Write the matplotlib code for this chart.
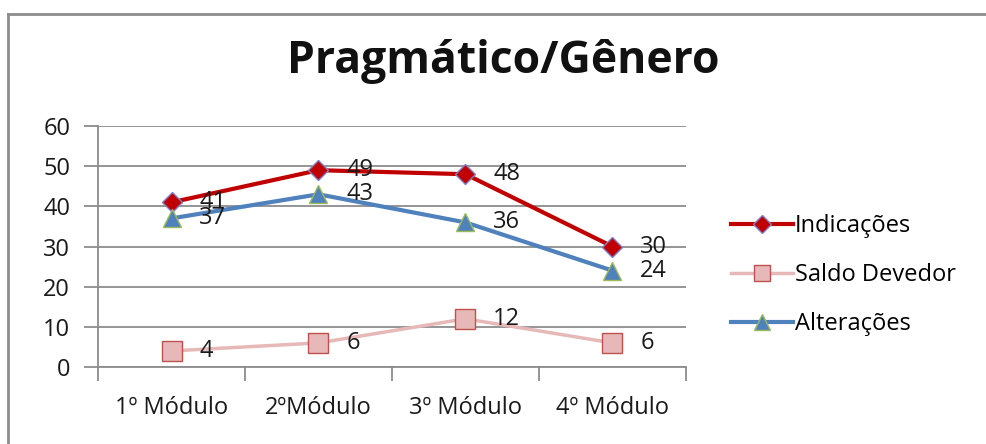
import numpy as np
import matplotlib.pyplot as plt
from matplotlib.lines import Line2D

# Data
categorias = ['1º Módulo', '2ºMódulo', '3º Módulo', '4º Módulo']
indicacoes = [41, 49, 48, 30]
saldo_devedor = [4, 6, 12, 6]
alteracoes = [37, 43, 36, 24]

plt.rcParams['font.family'] = ['Open Sans', 'DejaVu Sans']

fig = plt.figure(figsize=(9.86, 4.44), dpi=100)
ax = fig.add_axes([0.0994, 0.1734, 0.5963, 0.5428])

x = np.arange(len(categorias))
fs = 17

# series: (values, label, line colour, marker, marker fill, marker edge, lw, ms)
series = [
    (indicacoes, 'Indicações', '#C00000', 'D', '#C00000', '#7F7FC8', 3.0, 10.5),
    (saldo_devedor, 'Saldo Devedor', '#E6B9B8', 's', '#E6B9B8', '#C0504D', 2.5, 14),
    (alteracoes, 'Alterações', '#4F81BD', '^', '#4F81BD', '#9BBB59', 3.0, 13),
]

handles = []
for vals, lab, col, mk, mfc, mec, lw, ms in series:
    ax.plot(x, vals, color=col, lw=lw, marker=mk, markersize=ms,
            markerfacecolor=mfc, markeredgecolor=mec, markeredgewidth=1.0,
            zorder=3)
    for xi, v in zip(x, vals):
        ax.annotate(str(v), (xi, v), xytext=(20, 0), textcoords='offset points',
                    ha='left', va='center', fontsize=fs, color='#1a1a1a', zorder=4)
    handles.append(Line2D([0], [0], color=col, lw=lw, marker=mk,
                          markersize=ms * 0.85, markerfacecolor=mfc,
                          markeredgecolor=mec, markeredgewidth=1.0, label=lab))

ax.set_xlim(-0.5, 3.5)
ax.set_ylim(0, 60)
ax.set_yticks(range(0, 61, 10))
ax.yaxis.grid(True, color='#8c8c8c', lw=1.3)
ax.set_axisbelow(True)

ax.set_xticks(np.arange(-0.5, 4, 1))
ax.set_xticklabels([])
ax.set_xticks(x, minor=True)
ax.set_xticklabels(categorias, minor=True)
ax.tick_params(axis='x', which='major', length=10, width=1.3, color='#8c8c8c')
ax.tick_params(axis='x', which='minor', length=0, pad=21, labelsize=fs,
               labelcolor='#1a1a1a')
ax.tick_params(axis='y', length=10, width=1.3, color='#8c8c8c', pad=10,
               labelsize=fs, labelcolor='#1a1a1a')

for side in ['top', 'right']:
    ax.spines[side].set_visible(False)
for side in ['left', 'bottom']:
    ax.spines[side].set_color('#8c8c8c')
    ax.spines[side].set_linewidth(1.3)

fig.text(0.51, 0.862, 'Pragmático/Gênero', ha='center', va='center',
         fontsize=32, fontweight='bold', color='#111111')

fig.legend(handles=handles, loc='center left', bbox_to_anchor=(0.72, 0.38),
           frameon=False, fontsize=fs, handlelength=2.6, labelspacing=1.05,
           handletextpad=0.1)

# chart border (only top and left visible in the crop)
fig.add_artist(Line2D([0.008, 1.0], [0.968, 0.968], transform=fig.transFigure,
                      color='#8c8c8c', lw=2))
fig.add_artist(Line2D([0.008, 0.008], [0.0, 0.968], transform=fig.transFigure,
                      color='#8c8c8c', lw=2))

fig.savefig('out.png', dpi=100)
